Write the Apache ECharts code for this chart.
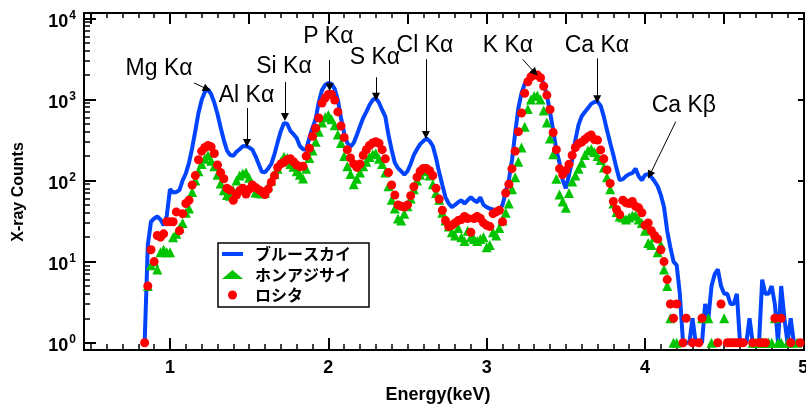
<!DOCTYPE html>
<html><head><meta charset="utf-8">
<script src="https://cdn.jsdelivr.net/npm/echarts@6/dist/echarts.min.js"></script>
<style>html,body{margin:0;padding:0;background:#fff}#c{width:806px;height:407px}</style>
</head><body><div id="c"></div>
<script>
// Energy channels: uniform grid starting at E_START keV, step E_STEP keV
const E_START = 0.84, E_STEP = 0.02;

const blueCounts = [
  1,16,31,34,36,33,28,37,78,71,
  72,76,100,122,165,250,410,680,984,1230,
  1330,1160,910,660,450,315,234,206,202,226,
  243,265,266,255,240,200,160,128,126,141,
  160,212,297,406,510,500,410,372,333,266,
  243,240,333,445,575,930,1300,1506,1590,1550,
  1350,984,590,385,290,261,290,364,466,590,
  700,853,984,1040,910,741,612,364,238,165,
  142,130,118,130,160,206,243,281,306,330,
  306,266,190,126,88,62,52,47,50,54,
  57,52,57,62,57,54,62,50,47,45,
  44,43,42,50,72,101,179,385,780,1190,
  1550,1740,1900,2060,2060,1900,1550,1130,700,415,
  238,165,101,80,117,179,315,485,620,700,
  780,880,930,940,830,612,415,290,206,141,
  101,104,113,120,123,140,113,101,117,120,
  110,98,85,66,47,24,15,10,9,4,
  1,1,1,2,1,1,1,3,2,5,
  7,8,5,4,4,3,3,4,1,1,
  1,2,1,1,1,6,4,4,5,3,
  1,5,2,1,2,1,1,1,1
];

const greenCounts = [
  null,5,9,10,8,13,14,13,13,20,
  22,26,30,40,45,72,100,130,160,185,
  205,175,150,118,92,76,66,65,75,100,
  115,122,125,108,85,71,70,69,70,85,
  100,120,140,170,196,190,160,148,130,118,
  106,140,190,235,300,400,520,600,640,570,
  480,370,290,200,150,120,90,105,125,150,
  170,195,210,216,185,160,125,85,58,45,
  34,32,39,48,60,78,100,118,132,130,
  115,90,70,58,40,32,27,23,21,26,
  20,18,24,20,19,18,19,20,15,16,
  23,21,26,32,40,52,78,110,170,255,
  460,760,1000,1100,1120,1000,730,520,330,210,
  105,67,55,46,70,97,115,140,165,206,
  235,245,225,200,179,145,110,78,52,41,
  36,35,33,35,37,37,33,30,24,17,
  16,20,13,16,8,5,2,1,1,null,
  null,null,null,null,null,null,2,null,2,1,
  null,null,null,2,null,null,null,null,null,null,
  null,null,1,1,1,1,1,1,1,2,
  1,1,null,1,1,null,1,null,null
];

const redCounts = [
  1,5,14,10,21,20,22,31,31,31,
  41,24,39,52,57,88,115,180,230,255,
  270,260,215,155,125,105,80,76,57,66,
  75,80,68,78,88,82,77,73,67,78,
  95,115,145,160,168,180,186,170,155,148,
  150,200,250,350,440,590,900,1040,1150,1150,
  980,700,470,340,240,190,160,145,160,205,
  240,270,290,300,288,240,185,125,88,66,
  50,48,47,50,65,84,110,130,141,141,
  132,115,80,59,43,32,27,28,30,32,
  33,36,34,23,34,36,34,30,28,27,
  39,41,43,31,70,90,140,230,400,680,
  1190,1650,1900,2000,2000,1850,1450,1130,750,390,
  240,140,118,133,158,205,255,285,297,320,
  345,364,320,315,238,185,135,92,55,44,
  38,57,53,52,55,48,46,40,28,30,
  24,21,19,14,10,6,3,2,3,null,
  1,2,null,1,null,1,2,null,null,null,
  null,1,3,null,1,1,1,1,1,1,
  null,null,1,null,1,1,1,null,null,2,
  null,2,null,null,1,null,null,1,null
];

const seriesNames = ['ブルースカイ', 'ホンアジサイ', 'ロシタ'];
const xTickLabels = [1, 2, 3, 4, 5];
const yTickLabels = [1, 10, 100, 1000, 10000];

// Peak annotations: label, label position (E, counts), arrow from (E, counts) to (E, counts)
const annoNames  = ['Mg Kα','Al Kα','Si Kα','P Kα','S Kα','Cl Kα','K Kα','Ca Kα','Ca Kβ'];
const annoTextE  = [0.931, 1.483, 1.720, 2.000, 2.294, 2.610, 3.134, 3.696, 4.245];
const annoTextC  = [2371, 1117, 2510, 5970, 3260, 4550, 4550, 4550, 846];
const arrowFromE = [1.152, 1.486, 1.726, 2.008, 2.301, 2.616, 3.227, 3.698, 4.194];
const arrowFromC = [1593, 783, 1640, 3060, 1872, 3120, 3120, 3210, 531];
const arrowToE   = [1.234, 1.486, 1.726, 2.008, 2.301, 2.616, 3.304, 3.698, 4.030];
const arrowToC   = [1343, 290, 607, 1410, 1080, 364, 2135, 1003, 117];

function toPairs(counts) {
  const out = [];
  counts.forEach((c, i) => {
    if (c != null) out.push([+(E_START + i * E_STEP).toFixed(2), c]);
  });
  return out;
}

const X_MIN = 0.457, X_MAX = 5.004;
const Y_MIN = 0.8128, Y_MAX = 11614;

const xMinor = [], topMajor = [], topMinor = [];
for (let k = 5; k <= 50; k++) {
  const v = +(k / 10).toFixed(1);
  if (k % 10 !== 0) xMinor.push(v);
  if (k % 5 === 0) topMajor.push(v); else topMinor.push(v);
}
const yMinor = [];
for (let n = 0; n < 4; n++) for (let k = 2; k <= 9; k++) yMinor.push(k * Math.pow(10, n));

const axisLineStyle = { color: '#000', width: 2 };
function xAx(pos, ticks, len, width, extra) {
  return Object.assign({
    type: 'value', position: pos, min: X_MIN, max: X_MAX,
    axisLine: { show: false },
    axisTick: { show: true, inside: true, length: len, customValues: ticks, lineStyle: { color: '#000', width: width } },
    axisLabel: { show: false }, splitLine: { show: false }
  }, extra || {});
}
function yAx(pos, ticks, len, width, extra) {
  return Object.assign({
    type: 'log', logBase: 10, position: pos, min: Y_MIN, max: Y_MAX,
    axisLine: { show: false },
    axisTick: { show: true, inside: true, length: len, customValues: ticks, lineStyle: { color: '#000', width: width } },
    axisLabel: { show: false }, splitLine: { show: false }, minorTick: { show: false }
  }, extra || {});
}

const chart = echarts.init(document.getElementById('c'), null, { renderer: 'canvas' });
chart.setOption({
  animation: false,
  backgroundColor: '#fff',
  grid: { left: 84, right: 2, top: 13, bottom: 57, containLabel: false, outerBoundsMode: 'none' },
  xAxis: [
    xAx('bottom', xTickLabels, 12, 2, {
      axisLine: { show: true, lineStyle: axisLineStyle },
      axisLabel: { show: true, customValues: xTickLabels, margin: 9, color: '#000',
        fontSize: 18, fontWeight: 'bold', fontFamily: 'Liberation Sans' },
      name: 'Energy(keV)', nameLocation: 'middle', nameGap: 36,
      nameTextStyle: { color: '#000', fontSize: 18, fontWeight: 'bold', fontFamily: 'Liberation Sans', padding: [0, 12, 0, 0] }
    }),
    xAx('bottom', xMinor, 6, 1.5),
    xAx('top', topMajor, 11, 2, { axisLine: { show: true, lineStyle: axisLineStyle } }),
    xAx('top', topMinor, 5, 1.5)
  ],
  yAxis: [
    yAx('left', yTickLabels, 12, 2, {
      axisLine: { show: true, lineStyle: axisLineStyle },
      axisLabel: { show: true, customValues: yTickLabels, margin: 8, color: '#000',
        formatter: v => '{b|10}{s|' + Math.round(Math.log10(v)) + '}',
        rich: {
          b: { fontSize: 18, fontWeight: 'bold', fontFamily: 'Liberation Sans', color: '#000', padding: [7, 0, 0, 0] },
          s: { fontSize: 12, fontWeight: 'bold', fontFamily: 'Liberation Sans', color: '#000', padding: [0, 0, 6, 1] }
        }
      }
    }),
    yAx('left', yMinor, 6, 1.5),
    yAx('right', yTickLabels, 6, 2, { axisLine: { show: true, lineStyle: axisLineStyle } })
  ],
  legend: {
    orient: 'vertical', left: 218, top: 243,
    itemWidth: 21, itemHeight: 9, itemGap: 4.5,
    padding: [3, 18, 4, 4],
    borderColor: '#000', borderWidth: 1.5, backgroundColor: '#fff',
    textStyle: { fontSize: 16, fontWeight: 'bold', color: '#000', fontFamily: 'Noto Sans CJK JP', padding: [0, 0, 0, 7] },
    data: [
      { name: seriesNames[0], icon: 'path://M0,0L21,0L21,4L0,4Z' },
      { name: seriesNames[1], icon: 'triangle' },
      { name: seriesNames[2], icon: 'circle' }
    ]
  },
  graphic: [{
    type: 'text', x: 19, y: 192, rotation: Math.PI / 2,
    style: { text: 'X-ray Counts', fill: '#000', font: 'bold 16px "Liberation Sans"', align: 'center', verticalAlign: 'middle' }
  }],
  series: [
    {
      name: seriesNames[0], type: 'line', data: toPairs(blueCounts),
      xAxisIndex: 0, yAxisIndex: 0, showSymbol: false, symbol: 'none',
      lineStyle: { color: '#0044ff', width: 4 }, itemStyle: { color: '#0044ff' }, z: 2
    },
    {
      name: seriesNames[1], type: 'scatter', data: toPairs(greenCounts),
      xAxisIndex: 0, yAxisIndex: 0, symbol: 'triangle', symbolSize: 10,
      itemStyle: { color: '#00c400', opacity: 1 }, z: 3
    },
    {
      name: seriesNames[2], type: 'scatter', data: toPairs(redCounts),
      xAxisIndex: 0, yAxisIndex: 0, symbol: 'circle', symbolSize: 9,
      itemStyle: { color: '#ff0000', opacity: 1 }, z: 4
    },
    {
      name: 'annotations', type: 'scatter', xAxisIndex: 0, yAxisIndex: 0,
      symbolSize: 1, itemStyle: { color: 'rgba(0,0,0,0)', opacity: 1 }, silent: true, z: 6,
      data: annoNames.map((n, i) => ({ name: n, value: [annoTextE[i], annoTextC[i]] })),
      label: { show: true, position: 'inside', formatter: '{b}', color: '#000',
        fontSize: 23, fontFamily: 'Liberation Sans' },
      labelLayout: { hideOverlap: false },
      markLine: {
        silent: true, symbol: ['none', 'triangle'], symbolSize: 8,
        lineStyle: { color: '#000', width: 1, type: 'solid' },
        label: { show: false }, emphasis: { disabled: true },
        data: annoNames.map((n, i) => [
          { coord: [arrowFromE[i], arrowFromC[i]] },
          { coord: [arrowToE[i], arrowToC[i]] }
        ])
      }
    }
  ]
});
</script></body></html>
